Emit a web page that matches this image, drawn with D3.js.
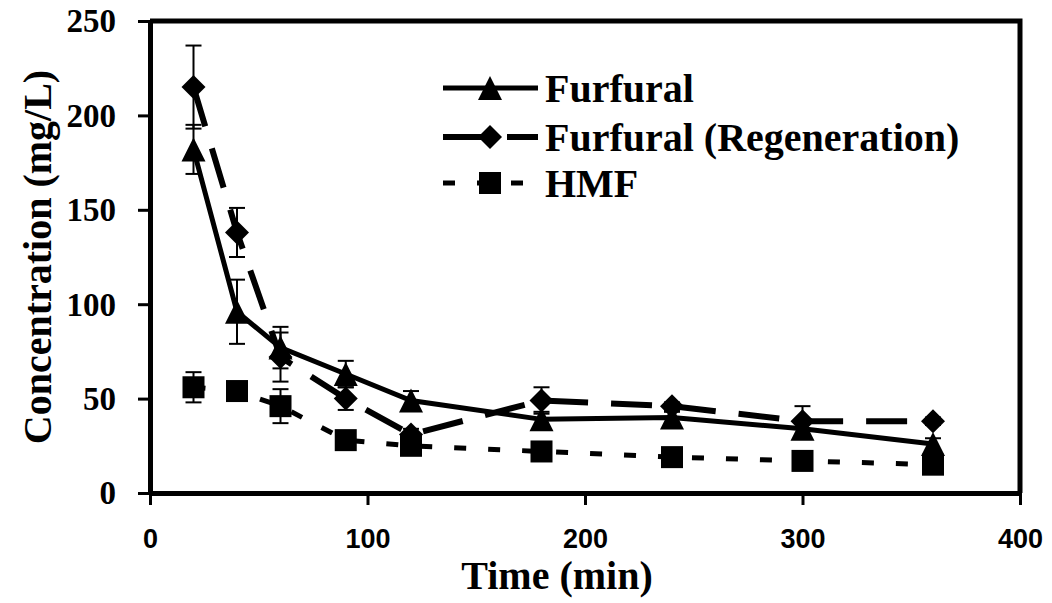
<!DOCTYPE html>
<html><head><meta charset="utf-8">
<script src="https://cdn.jsdelivr.net/npm/d3@7"></script>
<style>body{margin:0;background:#fff}svg{display:block}</style>
</head><body>
<svg id="c" width="1052" height="603"></svg>
<script>
const time = [20, 40, 60, 90, 120, 180, 240, 300, 360];
const furfural = [182, 96, 77, 63, 49, 39, 40, 34, 26];
const furfuralErr = [13, 17, 11, 7, 5, 4, 3, 4, 3];
const regen = [215, 138, 72, 50, 31, 49, 46, 38, 38];
const regenErr = [22, 13, 13, 6, 3, 7, 2, 8, 2];
const hmf = [56, 54, 46, 28, 25, 22, 19, 17, 15];
const hmfErr = [8, 2, 9, 2, 2, 2, 2, 2, 2];
const xTicks = [0, 100, 200, 300, 400];
const yTicks = [0, 50, 100, 150, 200, 250];
const seriesNames = ["Furfural", "Furfural (Regeneration)", "HMF"];

const svg = d3.select("#c");
const L = 150, R = 1020, T = 21, B = 493;
const x = d3.scaleLinear().domain([0, 400]).range([L, R]);
const y = d3.scaleLinear().domain([0, 250]).range([B, T]);

const series = [
  {name: seriesNames[0], v: furfural, e: furfuralErr, dash: null, w: 5, sym: "tri"},
  {name: seriesNames[1], v: regen, e: regenErr, dash: "41,23", w: 6, sym: "dia"},
  {name: seriesNames[2], v: hmf, e: hmfErr, dash: "12,22", w: 5, sym: "sq"}
];

function marker(g, sym, cx, cy) {
  if (sym === "tri") {
    g.append("path").attr("d", `M${cx},${cy-12}L${cx+12},${cy+12}L${cx-12},${cy+12}Z`).attr("fill", "#000");
  } else if (sym === "dia") {
    g.append("path").attr("d", `M${cx},${cy-12}L${cx+12},${cy}L${cx},${cy+12}L${cx-12},${cy}Z`).attr("fill", "#000");
  } else {
    g.append("rect").attr("x", cx-11).attr("y", cy-11).attr("width", 22).attr("height", 22).attr("fill", "#000");
  }
}

// frame (top and right)
svg.append("path").attr("d", `M${L},${T}H${R}V${B}`).attr("fill", "none").attr("stroke", "#000").attr("stroke-width", 5);

// axes
const yAxis = svg.append("g").attr("transform", `translate(${L},0)`)
  .call(d3.axisLeft(y).tickValues(yTicks).tickSize(12).tickPadding(22).tickSizeOuter(0));
yAxis.select(".domain").attr("stroke-width", 5);
yAxis.selectAll(".tick line").attr("stroke-width", 3);
yAxis.selectAll("text").attr("font-family", "Liberation Serif, Times New Roman, serif")
  .attr("font-weight", "bold").attr("font-size", 33).attr("fill", "#000").attr("dy", "0.33em");

const xAxis = svg.append("g").attr("transform", `translate(0,${B})`)
  .call(d3.axisBottom(x).tickValues(xTicks).tickSize(12).tickPadding(24).tickSizeOuter(0));
xAxis.select(".domain").attr("stroke-width", 5);
xAxis.selectAll(".tick line").attr("stroke-width", 3);
xAxis.selectAll("text").attr("font-family", "Liberation Sans, Arial, sans-serif")
  .attr("font-weight", "bold").attr("font-size", 27).attr("fill", "#000");

// axis titles
svg.append("text").attr("x", 557).attr("y", 589).attr("text-anchor", "middle")
  .attr("font-family", "Liberation Serif, Times New Roman, serif").attr("font-weight", "bold")
  .attr("font-size", 40).text("Time (min)");
svg.append("text").attr("transform", "translate(51,257) rotate(-90)").attr("text-anchor", "middle")
  .attr("font-family", "Liberation Serif, Times New Roman, serif").attr("font-weight", "bold")
  .attr("font-size", 40).text("Concentration (mg/L)");

// error bars
series.forEach(s => {
  const g = svg.append("g").attr("stroke", "#000").attr("stroke-width", 2);
  time.forEach((t, i) => {
    const cx = x(t), y1 = y(s.v[i] + s.e[i]), y2 = y(s.v[i] - s.e[i]);
    g.append("line").attr("x1", cx).attr("x2", cx).attr("y1", y1).attr("y2", y2);
    g.append("line").attr("x1", cx-8).attr("x2", cx+8).attr("y1", y1).attr("y2", y1);
    g.append("line").attr("x1", cx-8).attr("x2", cx+8).attr("y1", y2).attr("y2", y2);
  });
});

// lines
const line = d3.line().x((d, i) => x(time[i])).y(d => y(d));
series.forEach(s => {
  svg.append("path").datum(s.v).attr("d", line).attr("fill", "none").attr("stroke", "#000")
    .attr("stroke-width", s.w).attr("stroke-dasharray", s.dash);
});

// markers
series.forEach(s => {
  const g = svg.append("g");
  time.forEach((t, i) => marker(g, s.sym, x(t), y(s.v[i])));
});

// legend
const legY = [88, 137, 183];
series.forEach((s, i) => {
  const g = svg.append("g");
  g.append("line").attr("x1", 443).attr("x2", 538).attr("y1", legY[i]).attr("y2", legY[i])
    .attr("stroke", "#000").attr("stroke-width", s.w).attr("stroke-dasharray", s.dash);
  marker(g, s.sym, 490, legY[i]);
  g.append("text").attr("x", 545).attr("y", legY[i] + 14)
    .attr("font-family", "Liberation Serif, Times New Roman, serif").attr("font-weight", "bold")
    .attr("font-size", 40).text(s.name);
});
</script>
</body></html>
